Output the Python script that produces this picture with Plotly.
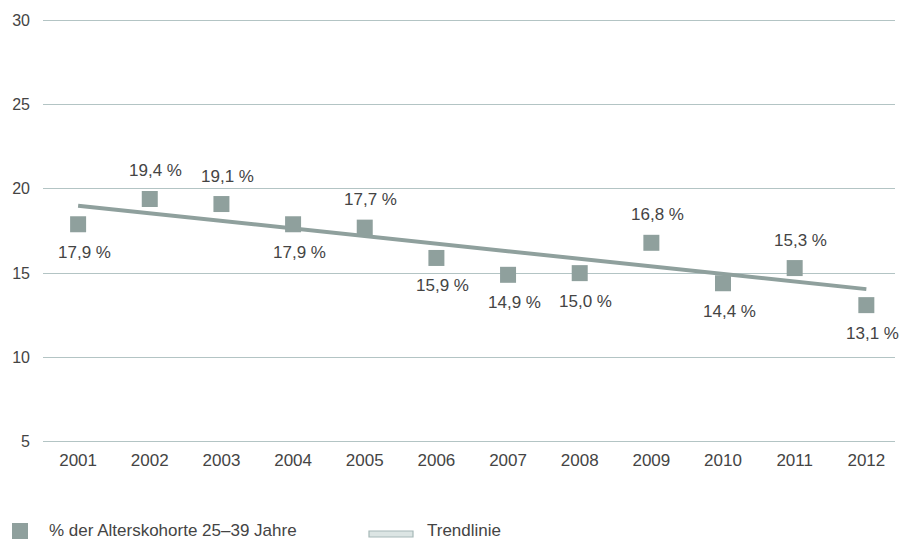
import plotly.graph_objects as go

# Share of the 25–39 age cohort, by year
years = [2001, 2002, 2003, 2004, 2005, 2006, 2007, 2008, 2009, 2010, 2011, 2012]
shares = [17.9, 19.4, 19.1, 17.9, 17.7, 15.9, 14.9, 15.0, 16.8, 14.4, 15.3, 13.1]
label_above = [False, True, True, False, True, False, False, False, True, False, True, False]

# Trend line end points (first and last year)
trend_years = [2001, 2012]
trend_values = [19.0, 14.05]

y_ticks = [5, 10, 15, 20, 25, 30]

MARK = "#8fa09d"
GRID = "#b3c4c4"
TEXT = "#444444"
FONT = "Liberation Sans, Arial, sans-serif"

fig = go.Figure()

fig.add_trace(go.Scatter(
    x=trend_years, y=trend_values, mode="lines",
    line=dict(color=MARK, width=4), hoverinfo="skip", showlegend=False,
))

fig.add_trace(go.Scatter(
    x=years, y=shares, mode="markers",
    marker=dict(symbol="square", size=16, color=MARK, line=dict(width=0)),
    showlegend=False,
))

for yr, v, up in zip(years, shares, label_above):
    fig.add_annotation(
        x=yr, y=v, text=f"{v:.1f} %".replace(".", ","),
        showarrow=False, xshift=6, yshift=28 if up else -28,
        font=dict(family=FONT, size=17, color=TEXT),
    )

# Legend row built from shapes and text, in paper coordinates
plot_l, plot_r, plot_t, plot_b = 43, 895, 17, 445
pw, ph = plot_r - plot_l, plot_b - plot_t


def px(x):
    return (x - plot_l) / pw


def py(y):
    return (plot_b - y) / ph


fig.add_shape(type="rect", xref="paper", yref="paper",
              x0=px(12), x1=px(28), y0=py(539), y1=py(523),
              fillcolor=MARK, line=dict(width=0))
fig.add_annotation(xref="paper", yref="paper", x=px(47), y=py(530),
                   xanchor="left", yanchor="middle", showarrow=False,
                   text="% der Alterskohorte 25–39 Jahre",
                   font=dict(family=FONT, size=17, color=TEXT))
fig.add_shape(type="rect", xref="paper", yref="paper",
              x0=px(369), x1=px(413), y0=py(537), y1=py(531),
              fillcolor="#dce5e4", line=dict(color="#a6b8b7", width=1.2))
fig.add_annotation(xref="paper", yref="paper", x=px(425), y=py(530),
                   xanchor="left", yanchor="middle", showarrow=False,
                   text="Trendlinie",
                   font=dict(family=FONT, size=17, color=TEXT))

fig.update_layout(
    width=905, height=540,
    margin=dict(l=plot_l, r=905 - plot_r, t=plot_t, b=540 - plot_b),
    plot_bgcolor="white", paper_bgcolor="white",
    font=dict(family=FONT, size=16, color=TEXT),
    showlegend=False,
)
fig.update_xaxes(
    range=[2000.51, 2012.4], tickvals=years, ticktext=[str(y) for y in years],
    showgrid=False, zeroline=False, showline=False, ticks="",
    ticklabelstandoff=3,
    tickfont=dict(size=17, color=TEXT),
)
fig.update_yaxes(
    range=[4.8, 30.2], tickvals=y_ticks, showgrid=True, gridcolor=GRID, gridwidth=1,
    zeroline=False, showline=False, ticks="", ticklabelstandoff=12,
    tickfont=dict(size=16, color=TEXT),
)

fig.write_html("out.html")
